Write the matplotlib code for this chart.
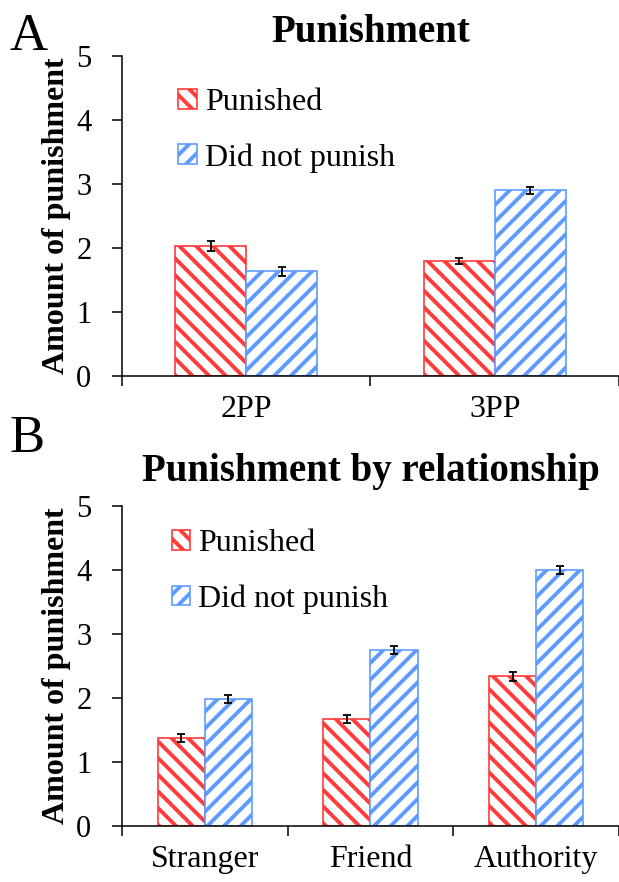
import numpy as np
import matplotlib
matplotlib.use("Agg")
import matplotlib.pyplot as plt

plt.rcParams['font.family'] = ['Liberation Serif', 'DejaVu Serif']
plt.rcParams['hatch.linewidth'] = 2.8

# ---- data ----
labels_a = ["2PP", "3PP"]
punished_a = [2.03, 1.80]
punished_a_err = [0.08, 0.045]
notpun_a = [1.64, 2.90]
notpun_a_err = [0.07, 0.055]

labels_b = ["Stranger", "Friend", "Authority"]
punished_b = [1.37, 1.67, 2.34]
punished_b_err = [0.06, 0.06, 0.07]
notpun_b = [1.98, 2.75, 4.00]
notpun_b_err = [0.06, 0.06, 0.07]

RED = '#ff3b3b'
BLUE = '#5f9bff'

fig = plt.figure(figsize=(6.19, 8.82), dpi=100)
ax_a = fig.add_axes([0.197, 0.5737, 0.803, 0.3628])
ax_b = fig.add_axes([0.197, 0.0635, 0.803, 0.3628])


def draw_panel(ax, labels, p, p_err, n, n_err, title, title_pad, leg_anchor):
    x = np.arange(len(labels))
    w = 0.285
    ax.bar(x - w / 2, p, w, color='white', edgecolor=RED, hatch='\\\\',
           linewidth=1.2, label='Punished')
    ax.bar(x + w / 2, n, w, color='white', edgecolor=BLUE, hatch='//',
           linewidth=1.2, label='Did not punish')
    ax.errorbar(x - w / 2, p, yerr=p_err, fmt='none', ecolor='black',
                capsize=3, elinewidth=1.3, capthick=1.3)
    ax.errorbar(x + w / 2, n, yerr=n_err, fmt='none', ecolor='black',
                capsize=3, elinewidth=1.3, capthick=1.3)

    ax.set_xlim(-0.5, len(labels) - 0.5)
    ax.set_ylim(0, 5)
    ax.set_yticks(range(6))
    ax.tick_params(axis='y', labelsize=22, direction='out', length=7,
                   width=1.1, pad=15)
    # ticks between categories, labels at centers
    ax.set_xticks(np.arange(len(labels) + 1) - 0.5)
    ax.set_xticklabels([])
    ax.tick_params(axis='x', which='major', direction='out', length=7, width=1.1)
    ax.set_xticks(x, minor=True)
    ax.set_xticklabels(labels, minor=True)
    ax.tick_params(axis='x', which='minor', length=0, labelsize=23, pad=14)

    for s in ['top', 'right']:
        ax.spines[s].set_visible(False)
    for s in ['left', 'bottom']:
        ax.spines[s].set_linewidth(1.1)

    ax.set_ylabel("Amount of punishment", fontsize=23, fontweight='bold', labelpad=4)
    ax.set_title(title, fontsize=28, fontweight='bold', pad=title_pad)
    ax.legend(loc='upper left', bbox_to_anchor=leg_anchor, frameon=False,
              fontsize=23, borderpad=0, handlelength=0.58, handleheight=0.58,
              handletextpad=0.25, labelspacing=0.82, borderaxespad=0)


draw_panel(ax_a, labels_a, punished_a, punished_a_err, notpun_a, notpun_a_err,
           "Punishment", 10, (0.113, 0.90))
draw_panel(ax_b, labels_b, punished_b, punished_b_err, notpun_b, notpun_b_err,
           "Punishment by relationship", 18, (0.10, 0.928))

fig.text(0.015, 0.943, "A", fontsize=38)
fig.text(0.015, 0.4875, "B", fontsize=38)

fig.savefig("out.png", dpi=100)
